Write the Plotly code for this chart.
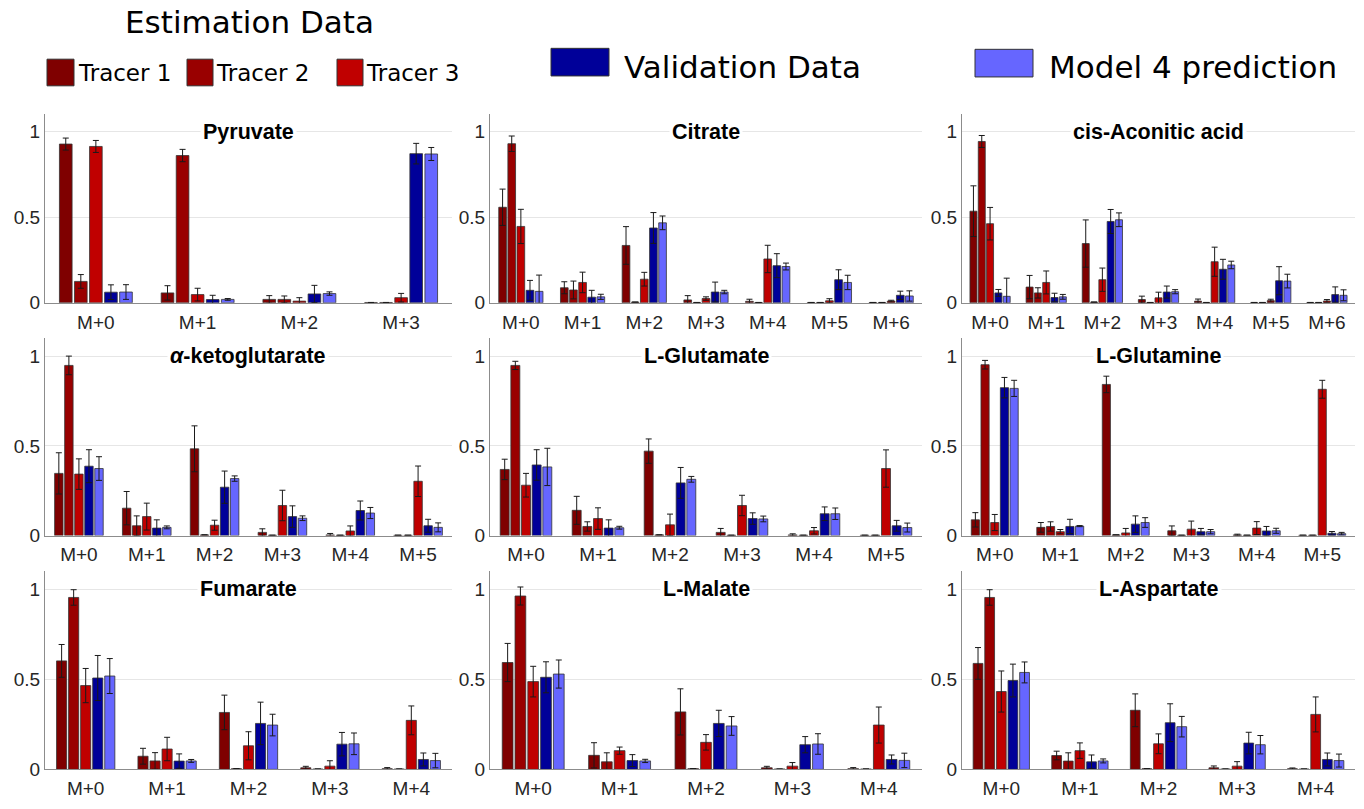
import plotly.graph_objects as go

# ---------------- data ----------------
SERIES = ["Tracer 1", "Tracer 2", "Tracer 3", "Validation Data", "Model 4 prediction"]
COLORS = ["#7F0000", "#990000", "#C00000", "#000099", "#6666FF"]

TITLES = ["Pyruvate", "Citrate", "cis-Aconitic acid",
          "<i>α</i>-ketoglutarate", "L-Glutamate", "L-Glutamine",
          "Fumarate", "L-Malate", "L-Aspartate"]

LABELS_4 = ["M+0", "M+1", "M+2", "M+3"]
LABELS_5 = ["M+0", "M+1", "M+2", "M+3", "M+4"]
LABELS_6 = ["M+0", "M+1", "M+2", "M+3", "M+4", "M+5"]
LABELS_7 = ["M+0", "M+1", "M+2", "M+3", "M+4", "M+5", "M+6"]

# rows: Tracer 1, Tracer 2, Tracer 3, Validation, Model 4
PYRUVATE_VAL = [[0.927, 0.058, 0.020, 0.002],
                [0.125, 0.860, 0.020, 0.002],
                [0.913, 0.048, 0.010, 0.030],
                [0.062, 0.019, 0.052, 0.871],
                [0.063, 0.020, 0.054, 0.869]]
PYRUVATE_ERR = [[0.035, 0.042, 0.022, 0.0],
                [0.040, 0.036, 0.020, 0.0],
                [0.035, 0.037, 0.020, 0.025],
                [0.043, 0.025, 0.050, 0.060],
                [0.043, 0.005, 0.010, 0.038]]

CITRATE_VAL = [[0.558, 0.088, 0.335, 0.017, 0.009, 0.002, 0.002],
               [0.929, 0.075, 0.004, 0.002, 0.002, 0.002, 0.002],
               [0.446, 0.119, 0.138, 0.025, 0.256, 0.012, 0.010],
               [0.073, 0.033, 0.437, 0.063, 0.217, 0.135, 0.044],
               [0.067, 0.035, 0.467, 0.063, 0.212, 0.119, 0.040]]
CITRATE_ERR = [[0.106, 0.035, 0.110, 0.025, 0.012, 0.0, 0.0],
               [0.045, 0.052, 0.0, 0.0, 0.0, 0.0, 0.0],
               [0.100, 0.060, 0.040, 0.010, 0.080, 0.012, 0.005],
               [0.058, 0.040, 0.090, 0.058, 0.070, 0.058, 0.024],
               [0.095, 0.015, 0.040, 0.010, 0.020, 0.042, 0.030]]

ACONITIC_VAL = [[0.535, 0.092, 0.346, 0.019, 0.010, 0.002, 0.002],
                [0.942, 0.058, 0.004, 0.002, 0.002, 0.002, 0.002],
                [0.462, 0.119, 0.135, 0.029, 0.240, 0.013, 0.011],
                [0.058, 0.031, 0.475, 0.063, 0.196, 0.129, 0.048],
                [0.038, 0.035, 0.485, 0.065, 0.221, 0.127, 0.044]]
ACONITIC_ERR = [[0.148, 0.068, 0.138, 0.020, 0.012, 0.0, 0.0],
                [0.035, 0.030, 0.0, 0.0, 0.0, 0.0, 0.0],
                [0.095, 0.067, 0.068, 0.033, 0.085, 0.008, 0.008],
                [0.020, 0.025, 0.070, 0.035, 0.058, 0.082, 0.045],
                [0.106, 0.014, 0.040, 0.012, 0.022, 0.040, 0.032]]

AKG_VAL = [[0.347, 0.153, 0.484, 0.018, 0.004, 0.002],
           [0.949, 0.055, 0.004, 0.002, 0.002, 0.002],
           [0.343, 0.106, 0.058, 0.168, 0.026, 0.303],
           [0.387, 0.042, 0.270, 0.106, 0.140, 0.055],
           [0.374, 0.046, 0.318, 0.097, 0.126, 0.046]]
AKG_ERR = [[0.115, 0.093, 0.128, 0.020, 0.008, 0.0],
           [0.052, 0.055, 0.0, 0.0, 0.0, 0.0],
           [0.085, 0.075, 0.028, 0.085, 0.028, 0.085],
           [0.092, 0.046, 0.090, 0.060, 0.053, 0.036],
           [0.066, 0.008, 0.015, 0.013, 0.031, 0.025]]

GLUTAMATE_VAL = [[0.369, 0.141, 0.471, 0.018, 0.004, 0.002],
                 [0.949, 0.051, 0.004, 0.002, 0.002, 0.002],
                 [0.281, 0.095, 0.060, 0.168, 0.027, 0.374],
                 [0.394, 0.042, 0.294, 0.095, 0.122, 0.055],
                 [0.383, 0.044, 0.314, 0.093, 0.122, 0.045]]
GLUTAMATE_ERR = [[0.057, 0.078, 0.068, 0.022, 0.006, 0.0],
                 [0.023, 0.026, 0.0, 0.0, 0.0, 0.0],
                 [0.066, 0.060, 0.060, 0.057, 0.018, 0.104],
                 [0.085, 0.046, 0.086, 0.032, 0.038, 0.030],
                 [0.104, 0.008, 0.016, 0.016, 0.032, 0.025]]

GLUTAMINE_VAL = [[0.088, 0.046, 0.843, 0.027, 0.004, 0.002],
                 [0.953, 0.051, 0.004, 0.002, 0.002, 0.002],
                 [0.073, 0.022, 0.015, 0.036, 0.042, 0.816],
                 [0.825, 0.051, 0.064, 0.022, 0.026, 0.013],
                 [0.821, 0.053, 0.073, 0.022, 0.027, 0.011]]
GLUTAMINE_ERR = [[0.040, 0.027, 0.046, 0.027, 0.004, 0.0],
                 [0.024, 0.026, 0.0, 0.0, 0.0, 0.0],
                 [0.045, 0.012, 0.025, 0.045, 0.036, 0.050],
                 [0.057, 0.040, 0.046, 0.018, 0.025, 0.010],
                 [0.045, 0.003, 0.027, 0.012, 0.014, 0.007]]

FUMARATE_VAL = [[0.602, 0.073, 0.316, 0.009, 0.004],
                [0.954, 0.047, 0.004, 0.002, 0.002],
                [0.465, 0.113, 0.131, 0.018, 0.272],
                [0.507, 0.046, 0.255, 0.140, 0.055],
                [0.518, 0.047, 0.246, 0.142, 0.049]]
FUMARATE_ERR = [[0.091, 0.044, 0.096, 0.008, 0.006],
                [0.043, 0.046, 0.0, 0.0, 0.0],
                [0.095, 0.065, 0.078, 0.030, 0.080],
                [0.125, 0.040, 0.118, 0.065, 0.036],
                [0.097, 0.008, 0.060, 0.060, 0.040]]

MALATE_VAL = [[0.593, 0.078, 0.319, 0.009, 0.004],
              [0.962, 0.042, 0.004, 0.002, 0.002],
              [0.487, 0.104, 0.150, 0.018, 0.246],
              [0.511, 0.049, 0.255, 0.137, 0.055],
              [0.529, 0.047, 0.241, 0.141, 0.050]]
MALATE_ERR = [[0.106, 0.070, 0.128, 0.008, 0.006],
              [0.050, 0.050, 0.0, 0.0, 0.0],
              [0.085, 0.020, 0.043, 0.020, 0.100],
              [0.086, 0.033, 0.073, 0.045, 0.025],
              [0.078, 0.009, 0.052, 0.057, 0.040]]

ASPARTATE_VAL = [[0.588, 0.077, 0.328, 0.009, 0.004],
                 [0.954, 0.046, 0.004, 0.002, 0.002],
                 [0.432, 0.104, 0.142, 0.018, 0.305],
                 [0.493, 0.042, 0.259, 0.146, 0.055],
                 [0.538, 0.047, 0.237, 0.137, 0.049]]
ASPARTATE_ERR = [[0.088, 0.024, 0.091, 0.010, 0.004],
                 [0.043, 0.046, 0.0, 0.0, 0.0],
                 [0.114, 0.043, 0.055, 0.025, 0.097],
                 [0.091, 0.038, 0.105, 0.060, 0.036],
                 [0.058, 0.011, 0.057, 0.051, 0.036]]

PANELS = [
    (LABELS_4, PYRUVATE_VAL, PYRUVATE_ERR),
    (LABELS_7, CITRATE_VAL, CITRATE_ERR),
    (LABELS_7, ACONITIC_VAL, ACONITIC_ERR),
    (LABELS_6, AKG_VAL, AKG_ERR),
    (LABELS_6, GLUTAMATE_VAL, GLUTAMATE_ERR),
    (LABELS_6, GLUTAMINE_VAL, GLUTAMINE_ERR),
    (LABELS_5, FUMARATE_VAL, FUMARATE_ERR),
    (LABELS_5, MALATE_VAL, MALATE_ERR),
    (LABELS_5, ASPARTATE_VAL, ASPARTATE_ERR),
]

# ---------------- layout geometry (pixels) ----------------
W, H = 1364, 809
COL_PX = [(45, 452), (490, 922), (962, 1355)]
ROW_PX = [(116, 307), (343, 543), (579, 780)]

TICK_FONT = dict(family="Liberation Sans, Arial, sans-serif", size=19, color="#262626")
LEG_FONT = "DejaVu Sans, Verdana, sans-serif"

fig = go.Figure()
layout = dict(
    width=W, height=H,
    margin=dict(l=0, r=0, t=0, b=0),
    paper_bgcolor="white", plot_bgcolor="white",
    barmode="group", bargap=0.26, bargroupgap=0.16,
    showlegend=False,
)
annotations = []
shapes = []

for i, (labels, vals, errs) in enumerate(PANELS):
    r, c = divmod(i, 3)
    n = i + 1
    xa = "x" if n == 1 else f"x{n}"
    ya = "y" if n == 1 else f"y{n}"
    for s in range(5):
        fig.add_trace(go.Bar(
            x=labels, y=vals[s], name=SERIES[s],
            xaxis=xa, yaxis=ya,
            marker=dict(color=COLORS[s], line=dict(color="#333333", width=0.8)),
            error_y=dict(type="data", array=errs[s], color="#1a1a1a",
                         thickness=1, width=3),
            showlegend=False,
        ))
    x0, x1 = COL_PX[c]
    y0, y1 = ROW_PX[r]
    layout["xaxis" if n == 1 else f"xaxis{n}"] = dict(
        domain=[x0 / W, x1 / W], anchor=ya, type="category",
        showline=True, linecolor="#8c8c8c", linewidth=1,
        showgrid=False, zeroline=False, ticks="", tickfont=TICK_FONT,
        ticklabelstandoff=2,
        range=[-0.5, len(labels) - 0.5],
    )
    layout["yaxis" if n == 1 else f"yaxis{n}"] = dict(
        domain=[1 - y1 / H, 1 - y0 / H], anchor=xa,
        range=[0, 1.1], tickvals=[0, 0.5, 1], ticktext=["0", "0.5", "1"],
        showline=True, linecolor="#8c8c8c", linewidth=1,
        showgrid=True, gridcolor="#e6e6e6", zeroline=False,
        ticks="", tickfont=TICK_FONT,
    )
    annotations.append(dict(
        text=f"<b>{TITLES[i]}</b>", xref=f"{xa} domain", yref=ya,
        x=0.5, y=1.0, xanchor="center", yanchor="middle", showarrow=False,
        bgcolor="white", borderpad=2,
        font=dict(family="Liberation Sans, Arial, sans-serif", size=21.5, color="black"),
    ))

# ---------------- manual legend ----------------
def box(px0, py0, px1, py1, color):
    shapes.append(dict(type="rect", xref="paper", yref="paper",
                       x0=px0 / W, x1=px1 / W, y0=1 - py1 / H, y1=1 - py0 / H,
                       fillcolor=color, line=dict(color="#333333", width=1)))

def label(text, px, py, size, anchor="left"):
    annotations.append(dict(text=text, xref="paper", yref="paper",
                            x=px / W, y=1 - py / H, xanchor=anchor, yanchor="middle",
                            showarrow=False, borderpad=0,
                            font=dict(family=LEG_FONT, size=size, color="black")))

label("Estimation Data", 249, 22, 31, anchor="center")
box(47, 60, 74, 87, COLORS[0]); label(SERIES[0], 77, 74, 23)
box(187, 60, 213, 87, COLORS[1]); label(SERIES[1], 215, 74, 23)
box(337, 60, 363, 87, COLORS[2]); label(SERIES[2], 365, 74, 23)
box(551, 49, 609, 77, COLORS[3]); label(SERIES[3], 623, 68, 31)
box(975, 50, 1033, 78, COLORS[4]); label(SERIES[4], 1048, 68, 31)

layout["annotations"] = annotations
layout["shapes"] = shapes
fig.update_layout(**layout)

POST = (
    "var d=document;"
    "d.documentElement.style.margin='0';d.documentElement.style.padding='0';"
    "d.body.style.margin='0';d.body.style.padding='0';"
    "d.documentElement.style.overflow='hidden';d.body.style.overflow='hidden';"
)

fig.write_html(
    "out.html",
    config={"displayModeBar": False},
    post_script=POST,
)
